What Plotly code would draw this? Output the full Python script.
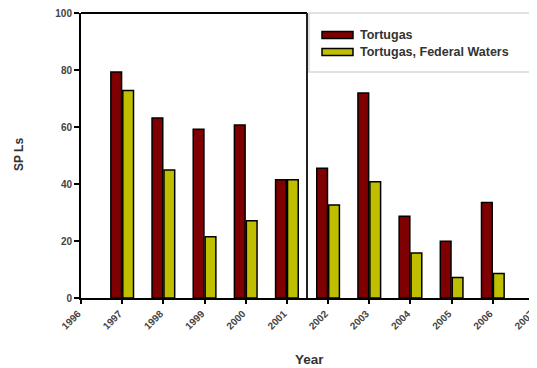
import plotly.graph_objects as go

years = [1997, 1998, 1999, 2000, 2001, 2002, 2003, 2004, 2005, 2006]
tortugas = [79.3, 63.2, 59.2, 60.7, 41.5, 45.5, 71.9, 28.7, 19.9, 33.5]
federal = [72.8, 44.9, 21.5, 27.1, 41.5, 32.6, 40.8, 15.8, 7.2, 8.6]
tick_years = list(range(1996, 2008))
series_names = ["Tortugas", "Tortugas, Federal Waters"]
colors = ["#7f0000", "#bfbf00"]

# the page body adds an 8px offset; size the figure so it fits the window
OFF = 8
W, H = 537 - OFF, 368 - OFF
ML, MR, MT = 81 - OFF, 3, 13 - OFF
MB = H - (298 - OFF)
font_family = "Liberation Sans, Arial, sans-serif"

fig = go.Figure()
fig.add_trace(go.Bar(x=years, y=tortugas, name=series_names[0],
                     marker=dict(color=colors[0], line=dict(color="black", width=1.5)),
                     width=0.26, offset=-0.275, showlegend=False))
fig.add_trace(go.Bar(x=years, y=federal, name=series_names[1],
                     marker=dict(color=colors[1], line=dict(color="black", width=1.5)),
                     width=0.26, offset=0.015, showlegend=False))


def px_to_paper_x(px):
    return (px - OFF - ML) / (W - ML - MR)


def px_to_paper_y(py):
    return (H - MB - (py - OFF)) / (H - MT - MB)


# frame top line and right line (partial box as in original)
xr = px_to_paper_x(307)
fig.add_shape(type="line", xref="paper", yref="paper", x0=0, x1=xr, y0=1, y1=1,
              line=dict(color="black", width=2))
fig.add_shape(type="line", xref="paper", yref="paper", x0=xr, x1=xr, y0=0, y1=1,
              line=dict(color="#222", width=2))

# legend box
fig.add_shape(type="rect", xref="paper", yref="paper",
              x0=px_to_paper_x(309), x1=px_to_paper_x(540),
              y0=px_to_paper_y(72), y1=px_to_paper_y(13),
              line=dict(color="#d8d8d8", width=1.5), fillcolor="white", layer="above")
legend_rows = [35, 52]
for name, col, py in zip(series_names, colors, legend_rows):
    fig.add_shape(type="rect", xref="paper", yref="paper",
                  x0=px_to_paper_x(322), x1=px_to_paper_x(353),
                  y0=px_to_paper_y(py + 3.5), y1=px_to_paper_y(py - 3.5),
                  line=dict(color="black", width=1.5), fillcolor=col, layer="above")
    fig.add_annotation(xref="paper", yref="paper", x=px_to_paper_x(358), y=px_to_paper_y(py),
                       text=name, showarrow=False, xanchor="left", yanchor="middle",
                       font=dict(family=font_family, size=12.5, color="#333", weight="bold"))

# axis titles
fig.add_annotation(xref="paper", yref="paper", x=px_to_paper_x(309), y=px_to_paper_y(359),
                   text="Year", showarrow=False, xanchor="center", yanchor="middle",
                   font=dict(family=font_family, size=13.5, color="#333", weight="bold"))
fig.add_annotation(xref="paper", yref="paper", x=px_to_paper_x(19), y=px_to_paper_y(155),
                   text="SP Ls", showarrow=False, textangle=-90, xanchor="center", yanchor="middle",
                   font=dict(family=font_family, size=12, color="#333", weight="bold"))

fig.update_layout(
    width=W, height=H,
    margin=dict(l=ML, r=MR, t=MT, b=MB, autoexpand=False),
    plot_bgcolor="white", paper_bgcolor="white",
    barmode="overlay",
)
fig.update_xaxes(range=[1996, 2007.0001], tickvals=tick_years, ticktext=[str(y) for y in tick_years],
                 tickangle=-45, showgrid=False, zeroline=False, automargin=False,
                 ticklabeloverflow="allow", ticklabelshift=-3,
                 showline=True, linecolor="black", linewidth=2,
                 ticks="outside", ticklen=4, tickwidth=1.5, tickcolor="black",
                 tickfont=dict(family=font_family, size=10, color="#444", weight="bold"))
fig.update_yaxes(range=[0, 100], tickvals=[0, 20, 40, 60, 80, 100],
                 showgrid=False, zeroline=False, automargin=False,
                 ticklabeloverflow="allow",
                 showline=True, linecolor="black", linewidth=2,
                 ticks="outside", ticklen=5, tickwidth=1.5, tickcolor="black",
                 tickfont=dict(family=font_family, size=10, color="#444", weight="bold"))

fig.write_html("out.html")
